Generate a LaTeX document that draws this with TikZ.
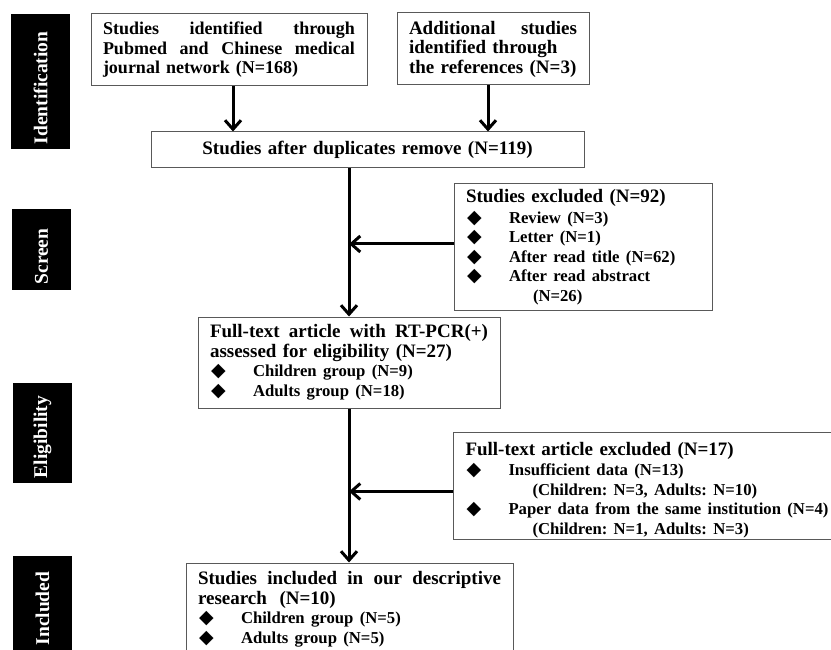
\documentclass[tikz,border=0pt]{standalone}
\usepackage{fontspec}
\setmainfont{Liberation Serif}
\newfontfamily\symfont{DejaVu Sans}
\usetikzlibrary{arrows.meta, positioning}
\tikzset{
  box/.style    = {rectangle, draw=black!65, line width=1pt, align=left,
                   inner xsep=12pt, inner ysep=0pt,
                   font=\fontsize{19}{19.5}\selectfont\bfseries\frenchspacing},
  stage/.style  = {rectangle, fill=black, text=white, rotate=90,
                   inner sep=0pt, minimum height=59pt,
                   font=\fontsize{19.5}{20}\selectfont\bfseries},
  arrow/.style  = {line width=3pt, -{Straight Barb[length=9pt,width=16pt]}},
}
\newcommand{\jline}[1]{\leavevmode\hbox to \linewidth{#1}}
\newcommand{\bul}{\makebox[43pt][l]{\hspace{1pt}{\symfont\fontsize{19}{14}\selectfont ◆}}}
\newcommand{\itemsz}{\fontsize{16.7}{19.5}\selectfont}

\begin{document}
\begin{tikzpicture}[x=1pt, y=-1pt]
  \useasboundingbox (0,0) rectangle (831,650);

  % stage labels
  \node[stage, minimum width=135pt] (lblident)  at (40.5,81.5)  {Identification\hspace*{13pt}};
  \node[stage, minimum width=81pt]  (lblscreen) at (41.5,249.5) {Screen\hspace*{14pt}};
  \node[stage, minimum width=100pt] (lblelig)   at (42.5,433)   {Eligibility\hspace*{8pt}};
  \node[stage, minimum width=105pt] (lblincl)   at (42.5,608.5) {Included};

  % boxes
  \node[box, text width=252pt, minimum height=72pt,
        font=\fontsize{18}{19.5}\selectfont\bfseries] (srcdb) at (229,50)
    {\jline{Studies\hfill identified\hfill through}\\
     \jline{Pubmed\hfill and\hfill Chinese\hfill medical}\\
     journal network (N=168)};

  \node[box, text width=168pt, minimum height=72pt] (srcref) at (493,49)
    {\jline{Additional\hfill studies}\\
     identified through\\
     the references (N=3)};

  \node[box, text width=409pt, minimum height=36pt, align=center] (dedup) at (367.5,150)
    {Studies after duplicates remove (N=119)};

  \node[box, text width=234pt, minimum height=126pt] (exclscr) at (583,247)
    {Studies excluded (N=92)\\[1.5pt]
     {\itemsz\bul Review (N=3)\\
      \bul Letter (N=1)\\
      \bul After read title (N=62)\\
      \bul After read abstract\\
      \hspace*{67pt}(N=26)}};

  \node[box, text width=278pt, minimum height=91pt] (fulltext) at (349,362.5)
    {\jline{Full-text\hfill article\hfill with\hfill RT-PCR(+)}\\
     assessed for eligibility (N=27)\\
     {\itemsz\bul Children group (N=9)\\
      \bul Adults group (N=18)}};

  \node[box, text width=380pt, minimum height=107pt, anchor=west] (exclfull) at (453,485.5)
    {\rule{0pt}{22pt}Full-text article excluded (N=17)\\[1pt]
     {\itemsz\bul Insufficient data (N=13)\\
      \hspace*{67pt}(Children: N=3, Adults: N=10)\\
      \bul Paper data from the same institution (N=4)\\
      \hspace*{67pt}(Children: N=1, Adults: N=3)}};

  \node[box, text width=303pt, minimum height=92pt] (included) at (349.5,609)
    {\jline{Studies\hfill included\hfill in\hfill our\hfill descriptive}\\
     research~ (N=10)\\
     {\itemsz\bul Children group (N=5)\\
      \bul Adults group (N=5)}};

  % connectors
  \draw[arrow] ([xshift=4pt]srcdb.south) -- ([xshift=4pt]srcdb.south |- dedup.north);
  \draw[arrow] ([xshift=-5pt]srcref.south) -- ([xshift=-5pt]srcref.south |- dedup.north);
  \draw[arrow] (fulltext.north |- dedup.south) -- (fulltext.north);
  \draw[arrow] ([yshift=3pt]exclscr.west) -- ([yshift=3pt]exclscr.west -| fulltext.north);
  \draw[arrow] (fulltext.south) -- (fulltext.south |- included.north);
  \draw[arrow] ([yshift=-6pt]exclfull.west) -- ([yshift=-6pt]exclfull.west -| fulltext.south);

\end{tikzpicture}
\end{document}
